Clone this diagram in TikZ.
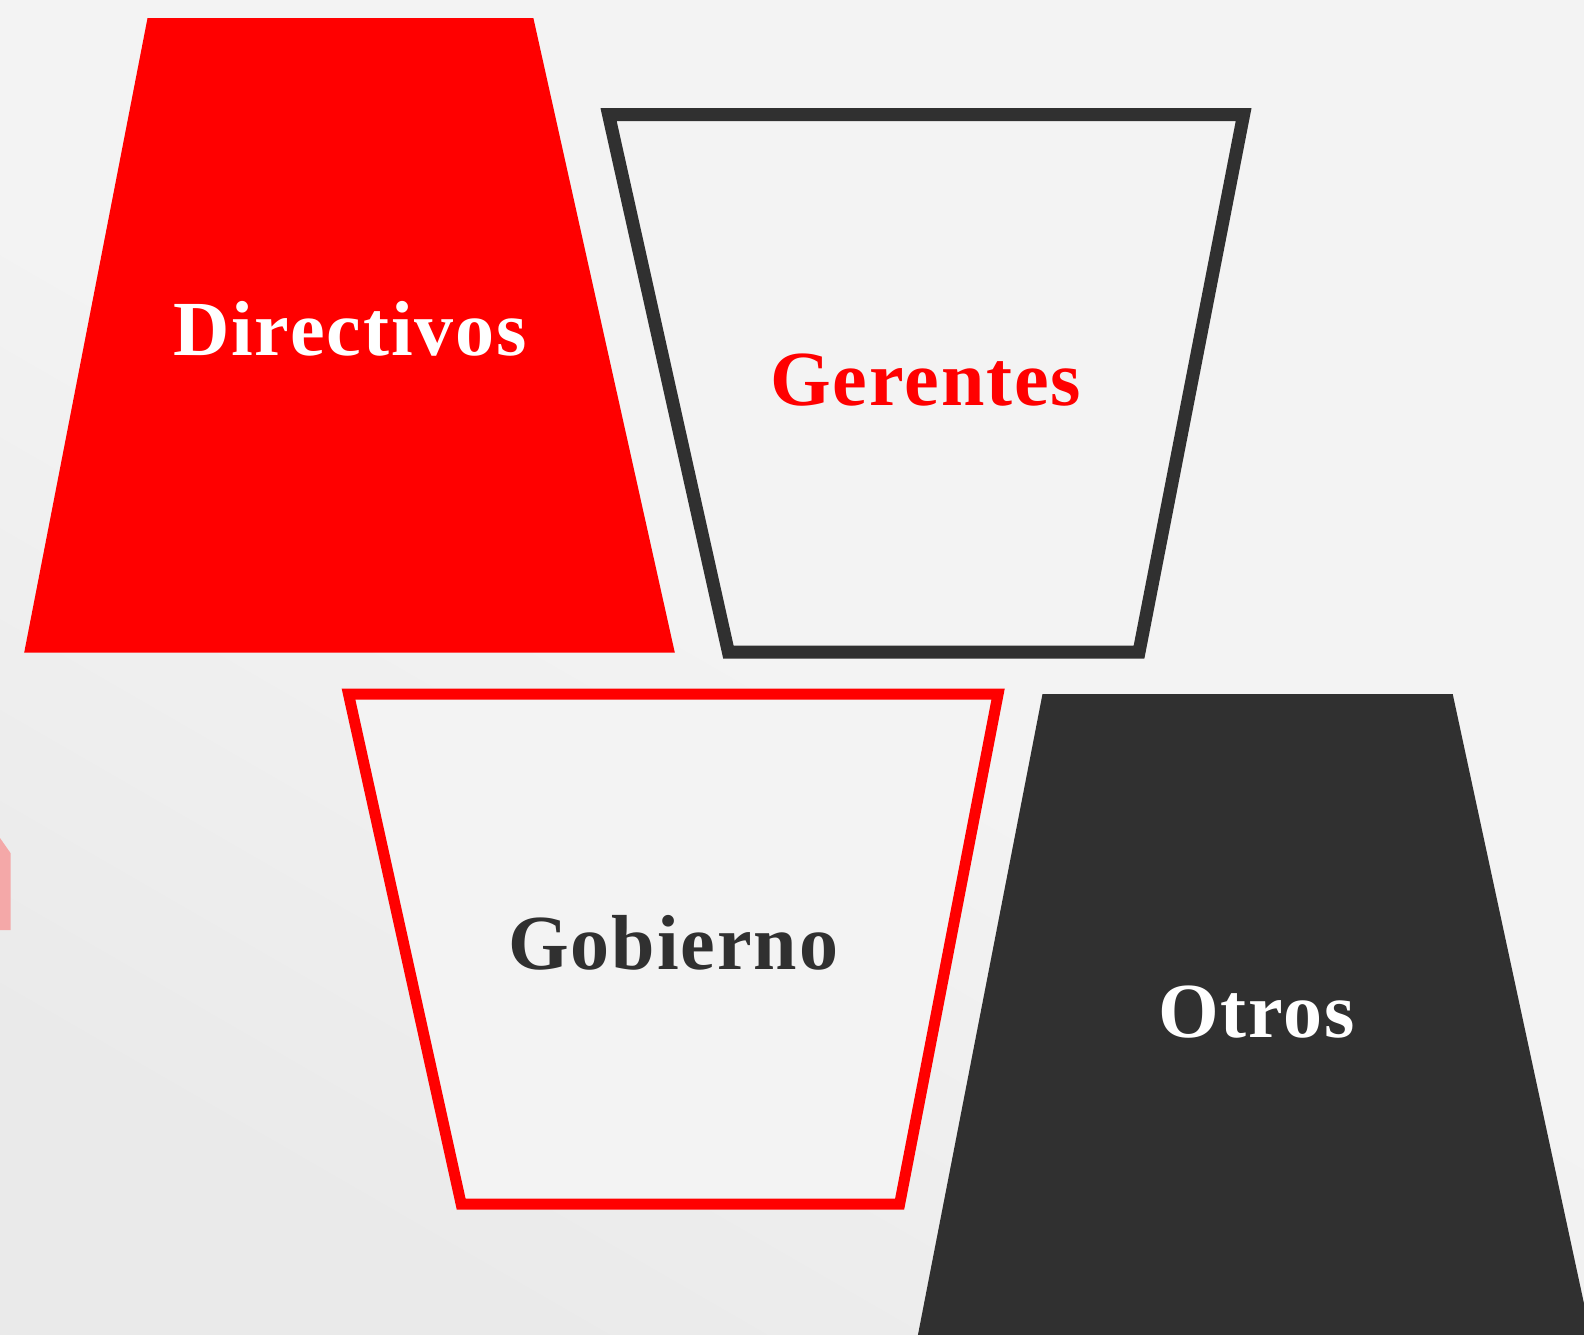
\documentclass[tikz,border=0pt]{standalone}
\usepackage{fontspec}
\setmainfont{Liberation Serif}
\definecolor{bgc}{HTML}{F3F3F3}
\definecolor{bgd}{HTML}{EAEAEA}
\definecolor{rd}{HTML}{FF0000}
\definecolor{dk}{HTML}{303030}
\definecolor{pk}{HTML}{F4A8A8}
\tikzset{
  lbl/.style={anchor=base,font=\fontsize{78}{82}\selectfont\bfseries\addfontfeature{LetterSpace=2.5}},
  outlinebox/.style={line width=#1,line join=miter,fill=bgc},
}
\begin{document}
\begin{tikzpicture}[x=1pt,y=-1pt]
\useasboundingbox (0,0) rectangle (1584,1334);
\clip (0,0) rectangle (1584,1334);
\shade[top color=bgc,bottom color=bgd,middle color=bgc,shading angle=-30] (0,0) rectangle (1584,1334);
% pink sliver at left edge
\fill[pk] (-2,838) -- (0,838) -- (10.5,853) -- (10.5,930) -- (-2,930) -- cycle;
% Directivos
\fill[rd] (147.5,18.2) -- (533.4,18.2) -- (674.8,652.6) -- (24.2,652.6) -- cycle;
\node[lbl,text=white] (dir) at (350,355.6) {Directivos};
% Gerentes
\draw[outlinebox=13pt,draw=dk] (608.6,114.7) -- (1243.6,114.7) -- (1139,652.1) -- (728.4,652.1) -- cycle;
\node[lbl,text=rd] (ger) at (925.8,405) {Gerentes};
% Gobierno
\draw[outlinebox=11pt,draw=rd] (348.5,694) -- (998.1,694) -- (899.6,1204.2) -- (461.2,1204.2) -- cycle;
\node[lbl,text=dk] (gob) at (673.3,969.8) {Gobierno};
% Otros
\fill[dk] (1042.5,694) -- (1452.7,694) -- (1594,1350) -- (915,1350) -- cycle;
\node[lbl,text=white] (otr) at (1256.7,1037.5) {Otros};
\end{tikzpicture}
\end{document}
